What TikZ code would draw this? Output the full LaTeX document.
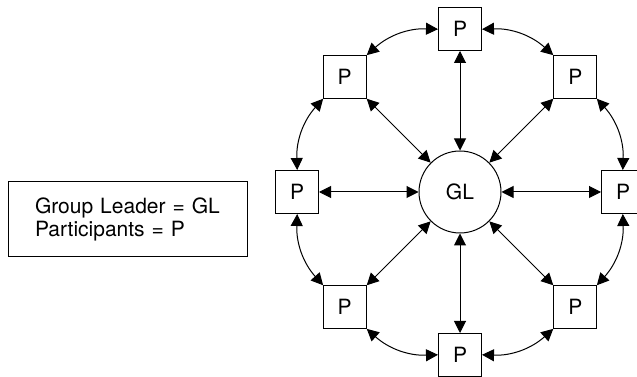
\documentclass[tikz,border=0pt]{standalone}
\usepackage{fontspec}
\setmainfont{TeX Gyre Heros}
\usepackage{tikz}
\usetikzlibrary{arrows.meta}
\usetikzlibrary{calc}
\newcommand\rimgap{22}
\tikzstyle{txt}  =[font=\fontsize{21}{23.5}\selectfont]
\tikzstyle{pbox} =[txt,draw,line width=1pt,minimum size=43pt,inner sep=0pt]
\tikzstyle{glc}  =[txt,draw,circle,line width=1pt,minimum size=82pt,inner sep=0pt]
\tikzstyle{keybox}=[txt,draw,line width=1pt,text width=185pt,inner xsep=27pt,minimum height=75pt,align=left]
\tikzstyle{twohead}=[>/.tip={Triangle[length=12pt,width=12pt]}]
\tikzstyle{lnk}  =[line width=1pt,twohead,<->]
\tikzstyle{rim}  =[lnk,bend right=\rimgap]

\begin{document}
\begin{tikzpicture}[x=1pt,y=1pt]
	\useasboundingbox (0,0) rectangle (637,377);
	\node[keybox] (key) at (127.5,157.5) {Group Leader = GL\\Participants = P};
	\node[glc] (gl) at (460,185) {GL};
	\node[pbox] (p-e)  at ($(gl)+(0:163)$)   {P};
	\node[pbox] (p-ne) at ($(gl)+(45:163)$)  {P};
	\node[pbox] (p-n)  at ($(gl)+(90:163)$)  {P};
	\node[pbox] (p-nw) at ($(gl)+(135:163)$) {P};
	\node[pbox] (p-w)  at ($(gl)+(180:163)$) {P};
	\node[pbox] (p-sw) at ($(gl)+(225:163)$) {P};
	\node[pbox] (p-s)  at ($(gl)+(270:163)$) {P};
	\node[pbox] (p-se) at ($(gl)+(315:163)$) {P};
	% spokes
	\draw[lnk] (gl) -- (p-e);
	\draw[lnk] (gl) -- (p-ne);
	\draw[lnk] (gl) -- (p-n);
	\draw[lnk] (gl) -- (p-nw);
	\draw[lnk] (gl) -- (p-w);
	\draw[lnk] (gl) -- (p-sw);
	\draw[lnk] (gl) -- (p-s);
	\draw[lnk] (gl) -- (p-se);
	% outer ring
	\draw[rim] (p-e)  to (p-ne);
	\draw[rim] (p-ne) to (p-n);
	\draw[rim] (p-n)  to (p-nw);
	\draw[rim] (p-nw) to (p-w);
	\draw[rim] (p-w)  to (p-sw);
	\draw[rim] (p-sw) to (p-s);
	\draw[rim] (p-s)  to (p-se);
	\draw[rim] (p-se) to (p-e);
\end{tikzpicture}
\end{document}
